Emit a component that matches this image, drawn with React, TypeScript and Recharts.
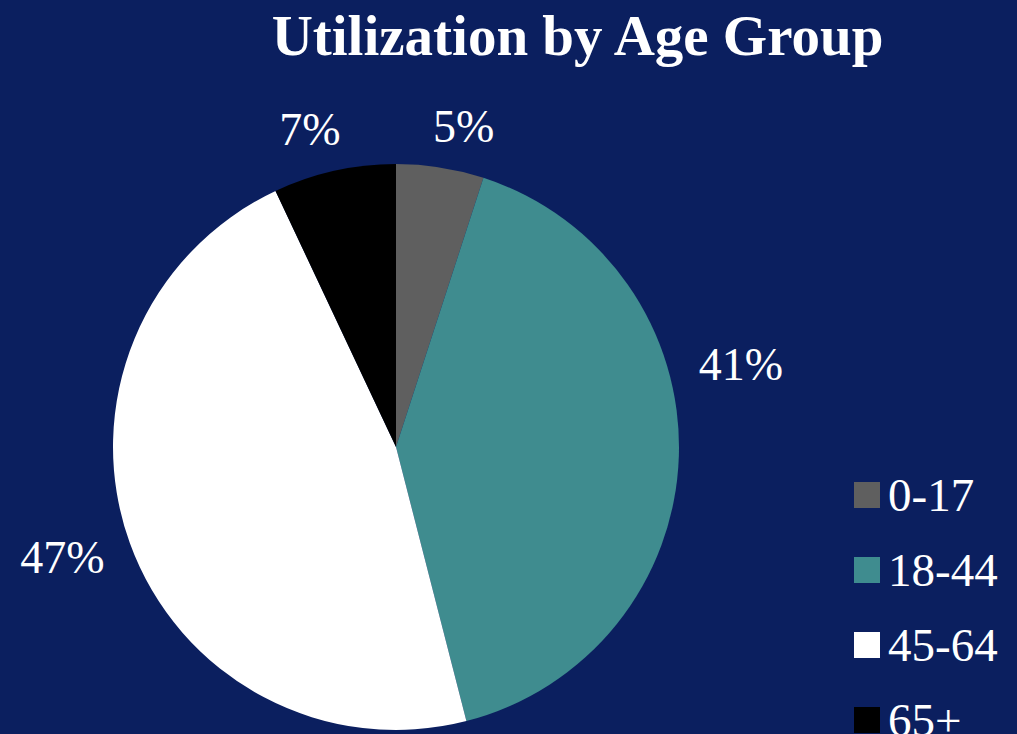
import { PieChart, Pie, Cell, Legend } from "recharts";

const ageGroups = ["0-17", "18-44", "45-64", "65+"];
const shares = [5, 41, 47, 7];
const sliceColors = ["#5f5f5f", "#3f8c8f", "#ffffff", "#000000"];

const data = ageGroups.map((name, i) => ({ name, value: shares[i] }));

const RAD = Math.PI / 180;
// small tweaks so labels sit where the original slide put them
const labelShift: [number, number][] = [
  [16, 5],
  [15, -93],
  [-23, -1],
  [-14, 5],
];

const renderLabel = (props: any) => {
  const { cx, cy, midAngle, outerRadius, index } = props;
  const r = outerRadius + 47;
  const x = cx + r * Math.cos(-midAngle * RAD) + labelShift[index][0];
  const y = cy + r * Math.sin(-midAngle * RAD) + labelShift[index][1];
  return (
    <text
      x={x}
      y={y}
      fill="#ffffff"
      textAnchor="middle"
      dominantBaseline="central"
      fontFamily="'Liberation Serif', serif"
      fontSize={46}
    >
      {`${shares[index]}%`}
    </text>
  );
};

const renderLegend = () => (
  <div style={{ display: "flex", flexDirection: "column", gap: 27 }}>
    {ageGroups.map((g, i) => (
      <div key={g} style={{ display: "flex", alignItems: "center", height: 48 }}>
        <span
          style={{
            width: 26,
            height: 26,
            background: sliceColors[i],
            display: "inline-block",
            marginRight: 8,
          }}
        />
        <span
          style={{
            color: "#ffffff",
            fontFamily: "'Liberation Serif', serif",
            fontSize: 47,
            lineHeight: "48px",
          }}
        >
          {g}
        </span>
      </div>
    ))}
  </div>
);

export default function App() {
  return (
    <div
      style={{
        position: "absolute",
        left: 0,
        top: 0,
        width: 1017,
        height: 734,
        background: "#0b1f5f",
        overflow: "hidden",
      }}
    >
      <div
        style={{
          position: "absolute",
          left: 0,
          top: 1,
          width: 1155,
          textAlign: "center",
          color: "#ffffff",
          fontFamily: "'Liberation Serif', serif",
          fontWeight: "bold",
          fontSize: 57,
          lineHeight: "70px",
        }}
      >
        Utilization by Age Group
      </div>
      <PieChart width={1017} height={734}>
        <Pie
          data={data}
          dataKey="value"
          nameKey="name"
          cx={391}
          cy={442}
          outerRadius={283}
          startAngle={90}
          endAngle={-270}
          stroke="none"
          label={renderLabel}
          labelLine={false}
          isAnimationActive={false}
        >
          {data.map((d, i) => (
            <Cell key={d.name} fill={sliceColors[i]} />
          ))}
        </Pie>
        <Legend
          content={renderLegend}
          layout="vertical"
          wrapperStyle={{ position: "absolute", left: 854, top: 471, width: 163 }}
        />
      </PieChart>
    </div>
  );
}
